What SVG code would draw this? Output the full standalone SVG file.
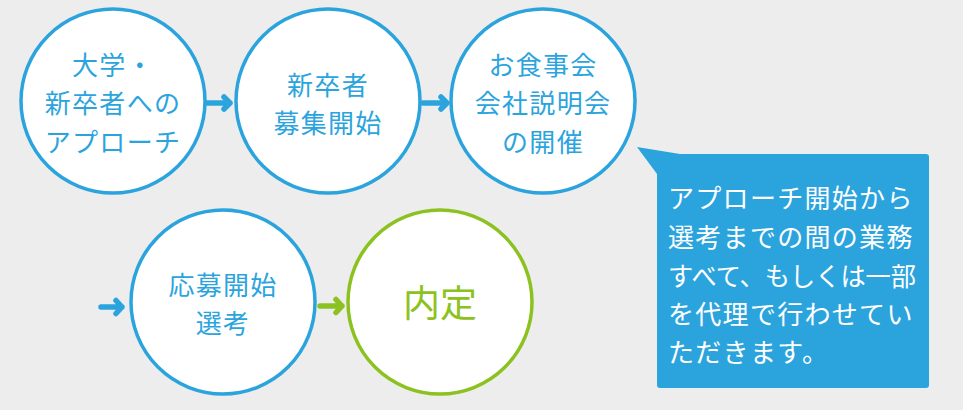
<svg xmlns="http://www.w3.org/2000/svg" width="963" height="410" viewBox="0 0 963 410">
<style>
.bg{fill:#ededed}
.cb{fill:#fff;stroke:#2ba4de;stroke-width:3.5}
.cg{fill:#fff;stroke:#8cc220;stroke-width:3.5}
.t{font-family:"Noto Sans CJK JP","Noto Sans",sans-serif;font-size:26px;letter-spacing:1.3px;text-anchor:middle;fill:#2ba4de}
.tg{font-family:"Noto Sans CJK JP","Noto Sans",sans-serif;font-size:37px;text-anchor:middle;fill:#8cc220}
.tw{font-family:"Noto Sans CJK JP","Noto Sans",sans-serif;font-size:26px;letter-spacing:1.3px;fill:#fff}
.ab{fill:none;stroke:#2ba4de;stroke-width:5.5;stroke-linecap:round;stroke-linejoin:round}
.ag{fill:none;stroke:#8cc220;stroke-width:5.5;stroke-linecap:round;stroke-linejoin:round}
.call{fill:#2ba4de}
</style>
<rect class="bg" x="0" y="0" width="963" height="410"/>
<g id="connectors">
<path class="ab" d="M206 103H230M224 97L230 103L224 109"/>
<path class="ab" d="M423 103H447M441 97L447 103L441 109"/>
<path class="ab" d="M101 307H122M116 300.5L122 307L116 313.5"/>
<path class="ag" d="M320 306H342M336 299.5L342 306L336 312.5"/>
</g>
<g id="node1">
<circle class="cb" cx="113" cy="101" r="92"/>
<text class="t" x="113" y="75">大学・</text>
<text class="t" x="113" y="113">新卒者への</text>
<text class="t" x="113" y="152">アプローチ</text>
</g>
<g id="node2">
<circle class="cb" cx="328" cy="101" r="92"/>
<text class="t" x="328" y="95">新卒者</text>
<text class="t" x="328" y="133">募集開始</text>
</g>
<g id="node3">
<circle class="cb" cx="543" cy="101" r="92"/>
<text class="t" x="543" y="75">お食事会</text>
<text class="t" x="543" y="113">会社説明会</text>
<text class="t" x="543" y="152">の開催</text>
</g>
<g id="node4">
<circle class="cb" cx="223" cy="302" r="92"/>
<text class="t" x="223" y="295">応募開始</text>
<text class="t" x="223" y="333">選考</text>
</g>
<g id="node5">
<circle class="cg" cx="440" cy="302" r="92"/>
<text class="tg" x="440" y="317">内定</text>
</g>
<g id="callout">
<path class="call" d="M637 147L680 154H926Q929 154 929 157V385Q929 388 926 388H660Q657 388 657 385V174Z"/>
<text class="tw" x="668" y="208">アプローチ開始から</text>
<text class="tw" x="668" y="247">選考までの間の業務</text>
<text class="tw" x="668" y="286" textLength="248" lengthAdjust="spacingAndGlyphs" style="letter-spacing:0">すべて、もしくは一部</text>
<text class="tw" x="668" y="324">を代理で行わせてい</text>
<text class="tw" x="668" y="362">ただきます。</text>
</g>
</svg>
